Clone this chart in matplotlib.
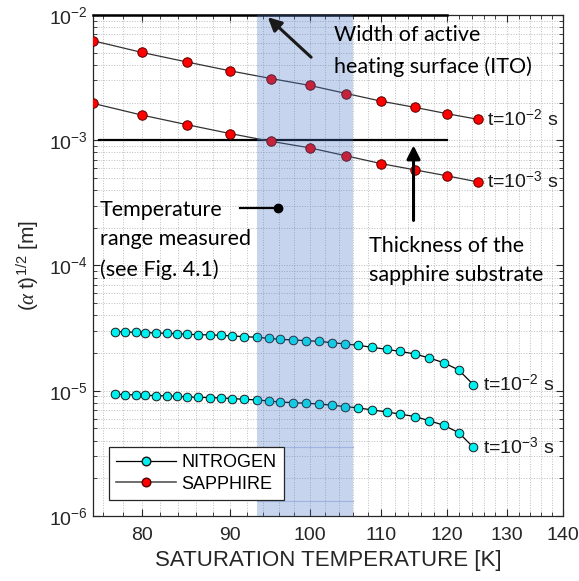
import matplotlib
matplotlib.use("Agg")
import matplotlib.pyplot as plt
from matplotlib.lines import Line2D
from matplotlib.ticker import FixedLocator, FixedFormatter, NullFormatter

plt.rcParams['font.family'] = ['Liberation Sans', 'DejaVu Sans']
plt.rcParams['mathtext.fontset'] = 'custom'
plt.rcParams['mathtext.rm'] = 'Liberation Sans'
plt.rcParams['mathtext.it'] = 'Liberation Serif:italic'
plt.rcParams['mathtext.bf'] = 'Liberation Sans:bold'

# ---- data -------------------------------------------------------------
# Sapphire thermal penetration depth (alpha*t)^0.5 vs saturation temperature
sapphire_T = [75, 80, 85, 90, 95, 100, 105, 110, 115, 120, 125]
sapphire_t2 = [6.23e-3, 5.03e-3, 4.21e-3, 3.58e-3, 3.11e-3, 2.74e-3,
               2.36e-3, 2.05e-3, 1.83e-3, 1.63e-3, 1.47e-3]
sapphire_t3 = [1.97e-3, 1.59e-3, 1.33e-3, 1.13e-3, 0.98e-3, 0.87e-3,
               0.75e-3, 0.65e-3, 0.58e-3, 0.52e-3, 0.465e-3]

# Liquid nitrogen along the saturation line
nitrogen_T = [77.2, 78.3, 79.4, 80.4, 81.5, 82.7, 83.8, 85.0, 86.2, 87.6,
              88.9, 90.2, 91.6, 93.3, 94.7, 96.2, 97.8, 99.5, 101.2, 103.0,
              104.8, 106.7, 108.7, 110.8, 112.7, 115.0, 117.2, 119.5, 121.9,
              124.3]
nitrogen_t2 = [2.965e-5, 2.948e-5, 2.926e-5, 2.91e-5, 2.894e-5, 2.873e-5,
               2.858e-5, 2.821e-5, 2.805e-5, 2.79e-5, 2.77e-5, 2.74e-5,
               2.704e-5, 2.67e-5, 2.62e-5, 2.572e-5, 2.544e-5, 2.512e-5,
               2.48e-5, 2.421e-5, 2.364e-5, 2.304e-5, 2.22e-5, 2.14e-5,
               2.063e-5, 1.966e-5, 1.826e-5, 1.675e-5, 1.464e-5, 1.117e-5]
nitrogen_t3 = [9.38e-6, 9.32e-6, 9.25e-6, 9.20e-6, 9.15e-6, 9.09e-6,
               9.04e-6, 8.92e-6, 8.87e-6, 8.82e-6, 8.76e-6, 8.66e-6,
               8.55e-6, 8.44e-6, 8.28e-6, 8.13e-6, 8.04e-6, 7.94e-6,
               7.84e-6, 7.66e-6, 7.48e-6, 7.29e-6, 7.02e-6, 6.77e-6,
               6.52e-6, 6.22e-6, 5.77e-6, 5.30e-6, 4.63e-6, 3.53e-6]

# Reference length scales
ito_width = 1e-2            # width of the active heating surface [m]
substrate_thickness = 1e-3  # sapphire substrate thickness [m]
ref_T_range = (75, 120)
substrate_T_range = (75.6, 120)

# Temperature range covered by the measurements
measured_range = (93.3, 105.9)

x_major = [80, 90, 100, 110, 120, 130, 140]
x_minor = list(range(76, 140, 2))
x_labels = [str(v) for v in x_major]
time_labels = ['t=10$^{-2}$ s', 't=10$^{-3}$ s']

# ---- figure -----------------------------------------------------------
fig = plt.figure(figsize=(5.79, 5.81), dpi=100)
ax = fig.add_axes([0.1606, 0.1119, 0.8117, 0.8623])
ax.set_xscale('log')
ax.set_yscale('log')
ax.set_xlim(75, 140)
ax.set_ylim(1e-6, 1e-2)

ax.xaxis.set_major_locator(FixedLocator(x_major))
ax.xaxis.set_major_formatter(FixedFormatter(x_labels))
ax.xaxis.set_minor_locator(FixedLocator(x_minor))
ax.xaxis.set_minor_formatter(NullFormatter())

ax.grid(True, which='both', linestyle=':', color='#bdbdbd', linewidth=0.7)
ax.set_axisbelow(True)
ax.tick_params(which='both', direction='in', top=True, right=True,
               colors='#262626', labelsize=14, labelcolor='#262626')
ax.tick_params(which='major', length=5, width=0.8)
ax.tick_params(which='minor', length=3, width=0.6)
ax.tick_params(axis='x', pad=8)
for s in ax.spines.values():
    s.set_color('#262626')
    s.set_linewidth(0.9)

# reference lines
ax.plot(ref_T_range, [ito_width, ito_width], color='black', lw=1.8,
        zorder=3, clip_on=False)
ax.plot(substrate_T_range, [substrate_thickness, substrate_thickness],
        color='black', lw=1.6, zorder=3)

# data series
sap_kw = dict(color='#333333', lw=0.9, marker='o', ms=6.8,
              markerfacecolor='#ff0000', markeredgecolor='#5a0000',
              markeredgewidth=0.7, zorder=4)
nit_kw = dict(color='black', lw=0.9, marker='o', ms=6.2,
              markerfacecolor='#00f0f0', markeredgecolor='#1a1a1a',
              markeredgewidth=0.7, zorder=4)
ax.plot(sapphire_T, sapphire_t2, **sap_kw)
ax.plot(sapphire_T, sapphire_t3, **sap_kw)
ax.plot(nitrogen_T, nitrogen_t2, **nit_kw)
ax.plot(nitrogen_T, nitrogen_t3, **nit_kw)

# shaded measured temperature range (overlays the data)
ax.axvspan(*measured_range, color='#4472c4', alpha=0.3, lw=0, zorder=5)
for yv in (3.55e-6, 1.31e-6):
    ax.plot(measured_range, [yv, yv], color='#9fb4de', lw=0.8, zorder=5)

# time labels at curve ends
curve_ends = [(sapphire_T, sapphire_t2, time_labels[0]),
              (sapphire_T, sapphire_t3, time_labels[1]),
              (nitrogen_T, nitrogen_t2, time_labels[0]),
              (nitrogen_T, nitrogen_t3, time_labels[1])]
for T, ys, lab in curve_ends:
    ax.annotate(lab, xy=(T[-1], ys[-1]), xytext=(7, 0),
                textcoords='offset points', va='center', ha='left',
                fontsize=14, color='#1a1a1a', zorder=6)

# annotations
note_font = dict(family=['Lato', 'DejaVu Sans'], fontsize=15.5, color='black')
ax.text(103.3, 5.15e-3, 'Width of active\nheating surface (ITO)',
        ha='left', va='center', linespacing=1.65, zorder=6, **note_font)
ax.annotate('', xy=(94.6, 9.6e-3), xytext=(100.2, 4.6e-3),
            arrowprops=dict(arrowstyle='-|>,head_length=0.8,head_width=0.4',
                            color='#1a1a1a', lw=2.2, shrinkA=0, shrinkB=0),
            zorder=6)

ax.text(108.2, 1.1e-4, 'Thickness of the\nsapphire substrate',
        ha='left', va='center', linespacing=1.6, zorder=6, **note_font)
ax.annotate('', xy=(114.8, 9.1e-4), xytext=(114.8, 2.29e-4),
            arrowprops=dict(arrowstyle='-|>,head_length=0.8,head_width=0.4',
                            color='black', lw=2.2, shrinkA=0, shrinkB=0),
            zorder=6)

ax.text(75.7, 1.6e-4, 'Temperature\nrange measured\n(see Fig. 4.1)',
        ha='left', va='center', linespacing=1.6, zorder=6, **note_font)
ax.plot([91.2, 95.9], [2.86e-4, 2.86e-4], color='black', lw=1.6, zorder=6)
ax.plot([95.9], [2.86e-4], 'o', color='black', ms=6, zorder=6)

# labels
ax.set_xlabel('SATURATION TEMPERATURE [K]', fontsize=16, color='#262626',
              labelpad=4)
ax.set_ylabel(r'$(\mathit{\alpha}\;\mathrm{t})^{1/2}$ [m]', fontsize=15,
              color='#262626', labelpad=6)

# legend
handles = [
    Line2D([], [], color='black', lw=0.9, marker='o', ms=6.2,
           markerfacecolor='#00f0f0', markeredgecolor='#1a1a1a'),
    Line2D([], [], color='#555555', lw=1.2, marker='o', ms=6.2,
           markerfacecolor='#ff0000', markeredgecolor='#5a0000'),
]
leg = ax.legend(handles, ['NITROGEN', 'SAPPHIRE'], loc='lower left',
                bbox_to_anchor=(0.034, 0.032), fontsize=13, frameon=True,
                fancybox=False, edgecolor='#262626', framealpha=1,
                borderpad=0.4, handlelength=3.3, handletextpad=0.3,
                labelspacing=0.25, borderaxespad=0)
leg.get_frame().set_linewidth(0.9)
leg.set_zorder(7)

fig.savefig('out.png', dpi=100)
